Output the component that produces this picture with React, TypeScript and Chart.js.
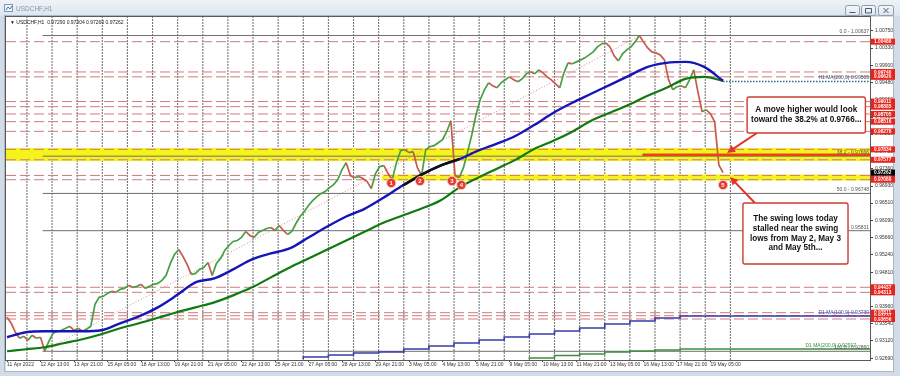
import React, { useEffect, useRef } from "react";
import { Chart, registerables } from "chart.js";

Chart.register(...registerables);

const FONT = '"Liberation Sans", Arial, sans-serif';
Chart.defaults.font.family = FONT;

// ---- scale ranges (bar index of H1 bars from 11 Apr 2022 05:00, price) ----
const X_MIN = -1;
const X_MAX = 824.4;
const Y_MIN = 0.92646;
const Y_MAX = 1.01094;

// ---- axis ticks ----
const xTickBars = [0, 32, 64, 96, 128, 160, 192, 224, 256, 288, 320, 352, 384, 416, 448, 480, 512, 544, 576, 608, 640, 672];
const xTickLabels = [
  "11 Apr 2022", "12 Apr 13:00", "13 Apr 21:00", "15 Apr 05:00", "18 Apr 13:00", "19 Apr 21:00",
  "21 Apr 05:00", "22 Apr 13:00", "25 Apr 21:00", "27 Apr 05:00", "28 Apr 13:00", "29 Apr 21:00",
  "3 May 05:00", "4 May 13:00", "5 May 21:00", "9 May 05:00", "10 May 13:00", "11 May 21:00",
  "13 May 05:00", "16 May 13:00", "17 May 21:00", "19 May 05:00",
];
const dayStartBars = [19, 43, 67, 91, 115, 139, 163, 187, 211, 235, 259, 283, 307, 331, 355, 379, 403, 427, 451, 475, 499, 523, 547, 571, 595, 619, 643, 667, 691];
const yTickValues = [0.9269, 0.9312, 0.9354, 0.9396, 0.9439, 0.9481, 0.9524, 0.9566, 0.9609, 0.9651, 0.9693, 0.9736, 0.9778, 0.9821, 0.9863, 0.9906, 0.9948, 0.999, 1.0033, 1.0075];

// ---- price (close every 4 H1 bars) ----
const CLOSE_STEP = 4;
const closes = [
  0.93698, 0.9355, 0.93329, 0.93182, 0.93231, 0.93132, 0.93255, 0.93182, 0.93206, 0.9287,
  0.93108, 0.93304, 0.93354, 0.93378, 0.93427, 0.93476, 0.93378, 0.93427, 0.93354, 0.93403,
  0.93476, 0.94017, 0.94189, 0.94214, 0.94287, 0.94337, 0.94312, 0.94386, 0.9441, 0.94484,
  0.94435, 0.94459, 0.94509, 0.9441, 0.94459, 0.94509, 0.94533, 0.94607, 0.9473, 0.95025,
  0.95246, 0.95369, 0.95197, 0.95, 0.94754, 0.94779, 0.94877, 0.94926, 0.95049, 0.9473,
  0.95025, 0.95148, 0.95344, 0.95467, 0.95565, 0.9559, 0.95664, 0.95811, 0.95713, 0.95664,
  0.95787, 0.95836, 0.95885, 0.95909, 0.95836, 0.95959, 0.95836, 0.95737, 0.95811, 0.96008,
  0.9618, 0.96303, 0.9645, 0.96573, 0.96671, 0.96745, 0.96794, 0.96893, 0.96966, 0.97089,
  0.97335, 0.97507, 0.97187, 0.97138, 0.97163, 0.97114, 0.9704, 0.96868, 0.97237, 0.97409,
  0.97433, 0.97237, 0.97089, 0.97507, 0.97802, 0.97826, 0.97753, 0.97777, 0.97384, 0.97187,
  0.97826, 0.979, 0.97925, 0.97998, 0.98072, 0.98269, 0.98539, 0.97187, 0.97138, 0.97384,
  0.97777, 0.98195, 0.98687, 0.99055, 0.99301, 0.99473, 0.99399, 0.9935, 0.99473, 0.99547,
  0.9962, 0.99547, 0.99498, 0.99571, 0.99694, 0.99743, 0.99694, 0.99792, 0.99719, 0.9962,
  0.99547, 0.99448, 0.9935, 0.99719, 0.99965, 0.9994, 0.99989, 1.00038, 1.00087, 1.00161,
  1.00235, 1.00358, 1.00431, 1.00456, 1.00358, 1.00136, 1.00014, 1.00186, 1.00284, 1.00358,
  1.00481, 1.00637, 1.00481, 1.00333, 1.00235, 1.0021, 1.00161, 1.00038, 0.99547, 0.99301,
  0.99375, 0.99399, 0.9935, 0.99547, 0.99792, 0.99252, 0.9876, 0.98809, 0.98711, 0.98514,
  0.9745, 0.97262,
];
const LAST_BAR = 684;
const LAST_PRICE = 0.97262;

// ---- H1 moving averages (value every 18 bars) ----
const MA_STEP = 18;
const ma100H1 = [
  0.93206, 0.93329, 0.93354, 0.93354, 0.93354, 0.93378, 0.9355, 0.93722, 0.93943, 0.94238,
  0.94558, 0.94656, 0.94877, 0.95123, 0.9527, 0.95393, 0.95664, 0.95934, 0.9618, 0.96376,
  0.96647, 0.96942, 0.97212, 0.97433, 0.97593, 0.97802, 0.97974, 0.9817, 0.98441, 0.98736,
  0.98981, 0.99203, 0.99424, 0.99645, 0.99866, 0.99965, 0.99989, 0.99866, 0.99522,
];
const ma200H1 = [
  0.92862, 0.92911, 0.9296, 0.93059, 0.93157, 0.9328, 0.93427, 0.9355, 0.93685, 0.93821,
  0.93943, 0.94066, 0.94238, 0.94435, 0.94681, 0.94926, 0.95148, 0.95369, 0.9559, 0.95811,
  0.96032, 0.96204, 0.96376, 0.96573, 0.96893, 0.97138, 0.97359, 0.97581, 0.97851, 0.98048,
  0.98269, 0.98539, 0.98736, 0.98932, 0.99154, 0.9935, 0.99571, 0.9962, 0.99522,
];
const blackSegIdx = [21, 25];
const h1MaLevel = 0.99505;

// ---- D1 moving averages (daily steps) ----
const d1Ma100Days = [283, 307, 331, 355, 379, 403, 427, 451, 475, 499, 523, 547, 571, 595, 619, 643, 667];
const d1Ma100 = [0.92671, 0.9272, 0.92769, 0.92818, 0.92843, 0.92917, 0.92991, 0.93065, 0.93139, 0.93212, 0.93286, 0.9336, 0.93434, 0.93533, 0.93607, 0.93681, 0.9373];
const d1Ma200Days = [499, 523, 547, 571, 595, 619, 643, 667];
const d1Ma200 = [0.92671, 0.92695, 0.92757, 0.92794, 0.92843, 0.92868, 0.92892, 0.92917];

// ---- horizontal levels ----
const redLevels = [1.00486, 0.9974, 0.9962, 0.99011, 0.98885, 0.98705, 0.98516, 0.98278, 0.97834, 0.97577, 0.97192, 0.97086, 0.94437, 0.94313, 0.93811, 0.93737, 0.93656];
const band1 = [0.9755, 0.9787];
const band2 = [0.97065, 0.97215];
const band2FromBar = 358;
const redLineLevel = 0.977;
const redLineFromBar = 607;

// ---- Fibonacci ----
const fibLowBar = 34;
const fibLow = 0.9286;
const fibHighBar = 605;
const fibHigh = 1.00637;
const fibLevels = [0, 38.2, 50, 61.8, 100];

// ---- annotations ----
const swingMarks = [
  { n: "1", bar: 367, price: 0.97006 },
  { n: "2", bar: 394.5, price: 0.97055 },
  { n: "3", bar: 425, price: 0.97055 },
  { n: "4", bar: 434, price: 0.96956 },
  { n: "5", bar: 684, price: 0.96956 },
];
const note1Lines = ["A move higher would look", "toward the 38.2% at 0.9766..."];
const note2Lines = ["The swing lows today", "stalled near the swing", "lows from May 2, May 3", "and May 5th..."];

const UP = "#45a045";
const DOWN = "#c65a4c";
const YELLOW = "#f4f41c";

function fibPrice(l: number) {
  return fibHigh - ((fibHigh - fibLow) * l) / 100;
}

const overlay = {
  id: "overlay",
  beforeDraw(chart: any) {
    const { ctx, chartArea: a } = chart;
    const W = chart.width;
    const H = chart.height;
    ctx.save();
    ctx.fillStyle = "#d2dce7";
    ctx.fillRect(0, 0, W, H);
    const g = ctx.createLinearGradient(0, 0, 0, 16);
    g.addColorStop(0, "#eef3f8");
    g.addColorStop(1, "#dce5ee");
    ctx.fillStyle = g;
    ctx.fillRect(0, 0, W, 16);
    ctx.fillStyle = "#ffffff";
    ctx.fillRect(a.left, a.top, 893 - a.left, 371 - a.top);
    ctx.strokeStyle = "#a9b7c6";
    ctx.lineWidth = 1;
    ctx.strokeRect(a.left - 1.5, a.top - 1.5, 893 - a.left + 2, 371 - a.top + 2);
    // title icon + text
    ctx.fillStyle = "#f4f7fa";
    ctx.fillRect(4, 4, 9, 8);
    ctx.strokeStyle = "#7f98b5";
    ctx.strokeRect(4.5, 4.5, 8, 7);
    ctx.strokeStyle = "#3f6fb0";
    ctx.beginPath();
    ctx.moveTo(6, 10);
    ctx.lineTo(8, 7);
    ctx.lineTo(10, 9);
    ctx.lineTo(12, 6);
    ctx.stroke();
    ctx.fillStyle = "#8a96a4";
    ctx.font = `6.5px ${FONT}`;
    ctx.textBaseline = "middle";
    ctx.textAlign = "left";
    ctx.fillText("USDCHF,H1", 16, 9);
    // window buttons
    const btns = [845, 861, 878];
    btns.forEach((bx, i) => {
      const bw = i === 2 ? 15 : 14;
      const gg = ctx.createLinearGradient(0, 5, 0, 15);
      gg.addColorStop(0, "#f6f8fb");
      gg.addColorStop(1, "#dfe6ee");
      ctx.fillStyle = gg;
      ctx.beginPath();
      ctx.roundRect(bx + 0.5, 5.5, bw, 10, 2);
      ctx.fill();
      ctx.strokeStyle = "#8e9cad";
      ctx.stroke();
      ctx.strokeStyle = "#4d5a69";
      ctx.beginPath();
      const cx = bx + bw / 2 + 0.5;
      if (i === 0) {
        ctx.moveTo(cx - 3, 12.5);
        ctx.lineTo(cx + 3, 12.5);
      } else if (i === 1) {
        ctx.rect(cx - 3, 8.5, 6, 4.5);
      } else {
        ctx.moveTo(cx - 2.5, 8);
        ctx.lineTo(cx + 2.5, 13);
        ctx.moveTo(cx + 2.5, 8);
        ctx.lineTo(cx - 2.5, 13);
      }
      ctx.stroke();
    });
    ctx.restore();
  },
  afterDraw(chart: any) {
    const { ctx, chartArea: a, scales } = chart;
    const px = (b: number) => scales.x.getPixelForValue(b);
    const py = (p: number) => scales.y.getPixelForValue(p);
    ctx.save();
    // plot border
    ctx.strokeStyle = "#5a5a5a";
    ctx.lineWidth = 1;
    ctx.strokeRect(a.left - 0.5, a.top - 0.5, a.right - a.left + 1, a.bottom - a.top + 1);

    // legend line
    ctx.fillStyle = "#222";
    ctx.font = `5px ${FONT}`;
    ctx.textBaseline = "middle";
    ctx.textAlign = "left";
    ctx.fillText("\u25BC USDCHF,H1  0.97290 0.97304 0.97260 0.97262", a.left + 4, a.top + 6);

    // fib labels
    ctx.fillStyle = "#555";
    ctx.textAlign = "right";
    ctx.textBaseline = "bottom";
    fibLevels.forEach((l) => {
      const p = fibPrice(l);
      ctx.fillText(`${l.toFixed(1)} - ${p.toFixed(5)}`, a.right - 1, py(p) - 1);
    });
    // MA labels
    ctx.fillStyle = "#2d5e6e";
    ctx.fillText(`H1 MA(200,0) ${h1MaLevel.toFixed(5)}`, a.right - 1, py(h1MaLevel) - 1);
    ctx.fillStyle = "#4545a8";
    ctx.fillText(`D1 MA(100,0) ${d1Ma100[d1Ma100.length - 1].toFixed(5)}`, a.right - 1, py(d1Ma100[d1Ma100.length - 1]) - 1);
    ctx.fillStyle = "#3a8a3a";
    ctx.fillText(`D1 MA(200,0) ${d1Ma200[d1Ma200.length - 1].toFixed(5)}`, a.right - 14, py(d1Ma200[d1Ma200.length - 1]) - 1);

    // price labels on the axis
    ctx.textAlign = "left";
    ctx.textBaseline = "middle";
    ctx.font = `bold 4.8px ${FONT}`;
    redLevels.forEach((p) => {
      const y = py(p);
      ctx.fillStyle = "#e8231c";
      ctx.fillRect(a.right + 1, y - 3, 24, 6);
      ctx.fillStyle = "#ffffff";
      ctx.fillText(p.toFixed(5), a.right + 4, y + 0.3);
    });
    {
      const y = py(LAST_PRICE);
      ctx.fillStyle = "#000";
      ctx.fillRect(a.right + 1, y - 3, 24, 6);
      ctx.fillStyle = "#fff";
      ctx.fillText(LAST_PRICE.toFixed(5), a.right + 4, y + 0.3);
    }

    // swing markers
    swingMarks.forEach((m) => {
      const x = px(m.bar);
      const y = py(m.price);
      ctx.beginPath();
      ctx.arc(x, y, 4.6, 0, Math.PI * 2);
      ctx.fillStyle = "#e23a2e";
      ctx.fill();
      ctx.strokeStyle = "#f7c8c2";
      ctx.lineWidth = 0.8;
      ctx.stroke();
      ctx.fillStyle = "#fff";
      ctx.font = `bold 6px ${FONT}`;
      ctx.textAlign = "center";
      ctx.textBaseline = "middle";
      ctx.fillText(m.n, x, y + 0.4);
    });

    const arrow = (b1: number, p1: number, b2: number, p2: number) => {
      const x1 = px(b1), y1 = py(p1), x2 = px(b2), y2 = py(p2);
      const ang = Math.atan2(y2 - y1, x2 - x1);
      ctx.strokeStyle = "#e2342a";
      ctx.fillStyle = "#e2342a";
      ctx.lineWidth = 2;
      ctx.beginPath();
      ctx.moveTo(x1, y1);
      ctx.lineTo(x2 - Math.cos(ang) * 5, y2 - Math.sin(ang) * 5);
      ctx.stroke();
      ctx.beginPath();
      ctx.moveTo(x2, y2);
      ctx.lineTo(x2 - Math.cos(ang) * 8 + Math.sin(ang) * 4, y2 - Math.sin(ang) * 8 - Math.cos(ang) * 4);
      ctx.lineTo(x2 - Math.cos(ang) * 8 - Math.sin(ang) * 4, y2 - Math.sin(ang) * 8 + Math.cos(ang) * 4);
      ctx.closePath();
      ctx.fill();
    };
    const note = (b1: number, b2: number, pTop: number, pBot: number, lines: string[], lh: number) => {
      const x1 = px(b1), x2 = px(b2), y1 = py(pTop), y2 = py(pBot);
      ctx.beginPath();
      ctx.roundRect(x1, y1, x2 - x1, y2 - y1, 2);
      ctx.fillStyle = "#fff";
      ctx.fill();
      ctx.strokeStyle = "#cc3b30";
      ctx.lineWidth = 1.4;
      ctx.stroke();
      ctx.fillStyle = "#111";
      ctx.font = `bold 8.2px ${FONT}`;
      ctx.textAlign = "center";
      ctx.textBaseline = "middle";
      const cy = (y1 + y2) / 2;
      lines.forEach((t, i) => {
        ctx.fillText(t, (x1 + x2) / 2, cy + (i - (lines.length - 1) / 2) * lh);
      });
    };
    arrow(716.4, 0.98237, 687.8, 0.97745);
    arrow(714.5, 0.96513, 690.6, 0.97153);
    note(707, 820, 0.99124, 0.98237, note1Lines, 10);
    note(703, 803.4, 0.96513, 0.95011, note2Lines, 9.7);
    ctx.restore();
  },
};

export default function App() {
  const ref = useRef<HTMLCanvasElement | null>(null);
  useEffect(() => {
    const canvas = ref.current;
    if (!canvas) return;
    const hline = (p: number, from: number, color: string, width: number, extra: any = {}) => ({
      type: "line",
      data: [{ x: from, y: p }, { x: X_MAX, y: p }],
      borderColor: color,
      borderWidth: width,
      pointRadius: 0,
      fill: false,
      ...extra,
    });
    const datasets: any[] = [];
    // vertical day separators, as two-point line datasets on the x scale
    dayStartBars.forEach((b) =>
      datasets.push({
        type: "line",
        data: [{ x: b, y: Y_MIN }, { x: b, y: Y_MAX }],
        borderColor: "#777777",
        borderWidth: 1.1,
        borderDash: [2, 1],
        pointRadius: 0,
        fill: false,
        order: 110,
      })
    );
    // yellow zones
    datasets.push(hline(band1[1], X_MIN, "rgba(0,0,0,0)", 0, { fill: "+1", backgroundColor: YELLOW, order: 100 }));
    datasets.push(hline(band1[0], X_MIN, "rgba(0,0,0,0)", 0, { order: 100 }));
    datasets.push(hline(band2[1], band2FromBar, "rgba(0,0,0,0)", 0, { fill: "+1", backgroundColor: YELLOW, order: 100 }));
    datasets.push(hline(band2[0], band2FromBar, "rgba(0,0,0,0)", 0, { order: 100 }));
    // red dashed levels
    redLevels.forEach((p) => datasets.push(hline(p, X_MIN, "#cf7b7b", 1, { borderDash: [10, 4], order: 90 })));
    // fib levels
    fibLevels.forEach((l) => datasets.push(hline(fibPrice(l), fibLowBar, "#6e6e6e", 1, { order: 85 })));
    datasets.push({
      type: "line",
      data: [{ x: fibLowBar, y: fibLow }, { x: fibHighBar, y: fibHigh }],
      borderColor: "#d48a8a",
      borderWidth: 1,
      borderDash: [1, 2],
      pointRadius: 0,
      order: 84,
    });
    // D1 MAs (stepped)
    datasets.push({
      type: "line",
      data: [...d1Ma100Days.map((d, i) => ({ x: d, y: d1Ma100[i] })), { x: X_MAX, y: d1Ma100[d1Ma100.length - 1] }],
      borderColor: "#3b3ba8",
      borderWidth: 1.6,
      stepped: "after",
      pointRadius: 0,
      order: 60,
    });
    datasets.push({
      type: "line",
      data: [...d1Ma200Days.map((d, i) => ({ x: d, y: d1Ma200[i] })), { x: X_MAX, y: d1Ma200[d1Ma200.length - 1] }],
      borderColor: "#3d8d3d",
      borderWidth: 1.6,
      stepped: "after",
      pointRadius: 0,
      order: 60,
    });
    // price
    datasets.push({
      type: "line",
      data: closes.map((c, i) => ({ x: i * CLOSE_STEP, y: c })),
      borderWidth: 1.7,
      pointRadius: 0,
      segment: {
        borderColor: (c: any) => (c.p1.parsed.y >= c.p0.parsed.y ? UP : DOWN),
      },
      order: 50,
    });
    // H1 MAs
    const maPts = (arr: number[]) => arr.map((v, i) => ({ x: Math.min(i * MA_STEP, LAST_BAR), y: v }));
    datasets.push({
      type: "line",
      data: maPts(ma200H1),
      borderColor: "#107a10",
      borderWidth: 2.2,
      pointRadius: 0,
      cubicInterpolationMode: "monotone",
      order: 40,
    });
    datasets.push(hline(h1MaLevel, LAST_BAR, "#2f7080", 1.5, { borderDash: [1.5, 1.5], order: 35 }));
    datasets.push({
      type: "line",
      data: maPts(ma100H1),
      borderColor: "#1515b8",
      borderWidth: 2.4,
      pointRadius: 0,
      cubicInterpolationMode: "monotone",
      order: 30,
    });
    datasets.push({
      type: "line",
      data: maPts(ma100H1).slice(blackSegIdx[0], blackSegIdx[1]),
      borderColor: "#111111",
      borderWidth: 2.4,
      pointRadius: 0,
      cubicInterpolationMode: "monotone",
      order: 25,
    });
    // red resistance line
    datasets.push(hline(redLineLevel, redLineFromBar, "#e8421e", 2.6, { order: 20 }));

    const chart = new Chart(canvas, {
      type: "line",
      data: { datasets },
      options: {
        animation: false,
        responsive: false,
        devicePixelRatio: 1,
        parsing: true,
        layout: { padding: { left: 6, top: 17, right: 0, bottom: 0 } },
        plugins: { legend: { display: false }, tooltip: { enabled: false } },
        scales: {
          x: {
            type: "linear",
            position: "bottom",
            min: X_MIN,
            max: X_MAX,
            afterBuildTicks: (s: any) => {
              s.ticks = xTickBars.map((v) => ({ value: v }));
            },
            afterFit: (s: any) => {
              s.height = 16;
            },
            ticks: {
              autoSkip: false,
              maxRotation: 0,
              minRotation: 0,
              align: "start",
              padding: 0,
              color: "#333",
              font: { size: 5, family: FONT },
              callback: (_v: any, i: number) => xTickLabels[i] ?? "",
            },
            grid: { drawOnChartArea: false, tickLength: 2, color: "#444" },
            border: { display: true, color: "#5a5a5a" },
          },
          y: {
            type: "linear",
            position: "right",
            min: Y_MIN,
            max: Y_MAX,
            afterBuildTicks: (s: any) => {
              s.ticks = yTickValues.map((v) => ({ value: v }));
            },
            afterFit: (s: any) => {
              s.width = 30;
            },
            ticks: {
              padding: 2,
              color: "#333",
              font: { size: 5, family: FONT },
              callback: (v: any) => Number(v).toFixed(5),
            },
            grid: { drawOnChartArea: false, tickLength: 3, color: "#444" },
            border: { display: true, color: "#5a5a5a" },
          },
        },
      } as any,
      plugins: [overlay],
    } as any);
    return () => chart.destroy();
  }, []);
  return (
    <div style={{ position: "fixed", left: 0, top: 0, width: 900, height: 376 }}>
      <canvas ref={ref} width={900} height={376} style={{ width: 900, height: 376, display: "block" }} />
    </div>
  );
}
